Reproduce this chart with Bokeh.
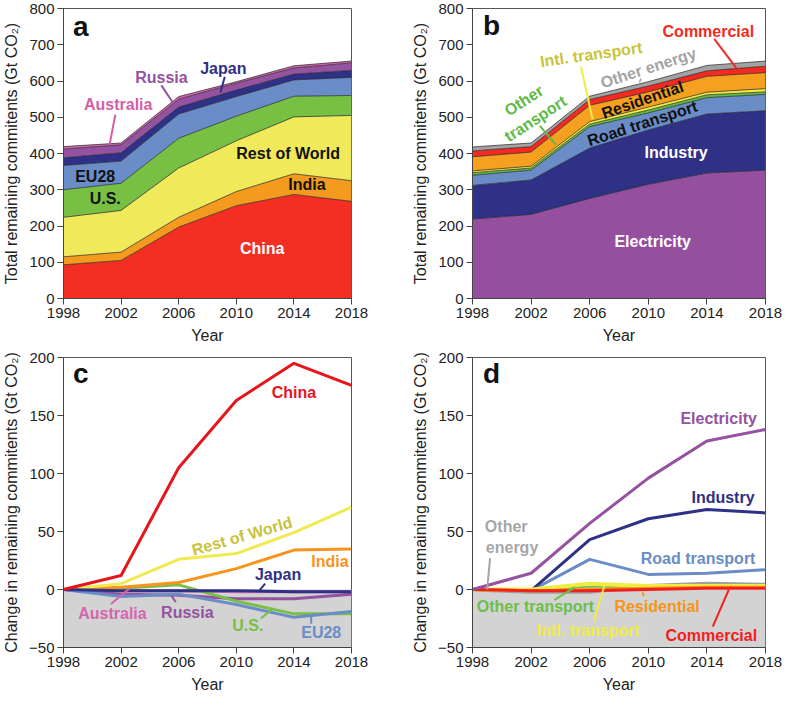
import numpy as np
from bokeh.plotting import figure
from bokeh.models import ColumnDataSource, Range1d, FixedTicker, Label, BoxAnnotation
from bokeh.layouts import column, row
from bokeh.embed import file_html
from bokeh.resources import INLINE

FONT = "Liberation Sans"

years = [1998, 2002, 2006, 2010, 2014, 2018]

# ---- panel a: remaining commitments by country (layer thickness, Gt CO2)
china = [93, 105, 197, 256, 287, 268]
india = [22, 23, 27, 39, 57, 57]
rest_of_world = [109, 115, 136, 140, 157, 180]
us = [76, 75, 82, 68, 57, 55]
eu28 = [67, 61, 67, 54, 45, 50]
japan = [21, 23, 19, 18, 16, 19]
russia = [24, 22, 22, 19, 17, 21]
australia = [7, 5, 7, 4, 6, 5]

# ---- panel b: remaining commitments by sector (layer thickness, Gt CO2)
electricity = [219, 232, 276, 315, 346, 354]
industry = [93, 95, 139, 150, 163, 164]
road_transport = [28, 27, 59, 47, 45, 45]
other_transport = [7, 6, 7, 8, 8, 7]
intl_transport = [5, 5, 7, 8, 7, 9]
residential = [39, 39, 45, 42, 44, 44]
commercial = [16, 15, 16, 16, 15, 18]
other_energy = [11, 10, 9, 12, 15, 14]

# ---- panel c: change vs 1998 by country
china_chg = [0, 12, 105, 163, 195, 176]
row_chg = [0, 5, 26, 31, 49, 71]
india_chg = [0, 2, 6, 18, 34, 35]
japan_chg = [0, -1, -1, -1, -2, -2]
australia_chg = [0, -1, -1, -2, -2, -2]
russia_chg = [0, -4, -5, -8, -8, -4]
us_chg = [0, 1, 4, -10, -21, -21]
eu28_chg = [0, -6, -4, -13, -24, -19]

# ---- panel d: change vs 1998 by sector
electricity_chg = [0, 14, 57, 96, 128, 138]
industry_chg = [0, -1, 43, 61, 69, 66]
road_chg = [0, -1, 26, 13, 14, 17]
other_transport_chg = [0, -1, 3, 2, 2, 2]
intl_chg = [0, 0, 5, 3, 3, 3]
residential_chg = [0, -1, 0, 1, 2, 2]
commercial_chg = [0, -1, -1, 0, 1, 1]
other_energy_chg = [0, -2, -2, 3, 5, 4]

YL_TOP = "Total remaining commitents (Gt CO\u2082)"
YL_BOT = "Change in remaining commitents (Gt CO\u2082)"


def make_fig(yr, yticks, ylabel, left, right, h, top, bottom):
    p = figure(width=392, height=h, x_range=Range1d(1998, 2018),
               y_range=Range1d(*yr), output_backend="svg",
               toolbar_location=None, min_border_left=left,
               min_border_right=right, min_border_top=top,
               min_border_bottom=bottom)
    p.xaxis.ticker = FixedTicker(ticks=years)
    p.yaxis.ticker = FixedTicker(ticks=yticks)
    p.grid.visible = False
    p.xaxis.axis_label = "Year"
    p.yaxis.axis_label = ylabel
    for ax in (p.xaxis[0], p.yaxis[0]):
        ax.axis_label_text_font = FONT
        ax.axis_label_text_font_size = "16px"
        ax.axis_label_text_font_style = "normal"
        ax.axis_label_text_color = "#222222"
        ax.axis_label_standoff = 6
        ax.major_label_text_font = FONT
        ax.major_label_text_font_size = "15px"
        ax.major_label_text_color = "#222222"
        ax.major_label_standoff = 3
        ax.major_tick_out = 6
        ax.major_tick_in = 0
        ax.minor_tick_out = 0
        ax.minor_tick_in = 0
        ax.axis_line_color = "#444444"
        ax.major_tick_line_color = "#444444"
    p.outline_line_color = "#555555"
    p.outline_line_alpha = 1
    return p


def lab(p, x, y, text, color, size="16px", angle=0, bold=True, align="center"):
    p.add_layout(Label(x=x, y=y, text=text, text_color=color, text_font=FONT,
                       text_font_size=size,
                       text_font_style="bold" if bold else "normal",
                       text_align=align, text_baseline="middle",
                       angle=angle, angle_units="deg"))


def leader(p, xs, ys, color, width=2):
    p.line(xs, ys, line_color=color, line_width=width)


# ================= panel a =================
a_names = ["china", "india", "row", "us", "eu28", "japan", "russia", "australia"]
a_vals = [china, india, rest_of_world, us, eu28, japan, russia, australia]
a_cols = ["#f52e24", "#f49b1f", "#f0e95a", "#77c044", "#6a8dc8", "#2e3187",
          "#9452a0", "#d669b4"]
src_a = ColumnDataSource(dict(year=years, **dict(zip(a_names, a_vals))))

pa = make_fig((0, 800), list(range(0, 801, 100)), YL_TOP, 58, 41, 348, 8, 50)
pa.varea_stack(stackers=a_names, x="year", color=a_cols, source=src_a)
cum = np.zeros(len(years))
for v in a_vals:
    cum = cum + np.array(v)
    pa.line(years, cum.tolist(), line_color="#222222", line_width=0.7)

lab(pa, 1999.2, 750, "a", "#111111", size="28px")
lab(pa, 2011.8, 138, "China", "white")
lab(pa, 2014.9, 315, "India", "#111111")
lab(pa, 2013.6, 399, "Rest of World", "#111111")
lab(pa, 2000.9, 277, "U.S.", "#111111")
lab(pa, 2000.2, 337, "EU28", "#111111")
lab(pa, 2009.1, 635, "Japan", "#2e3187")
lab(pa, 2004.8, 611, "Russia", "#9452a0")
lab(pa, 2001.8, 535, "Australia", "#d45fa8")
leader(pa, [2001.6, 2001.2], [507, 424], "#d45fa8")
leader(pa, [2004.8, 2005.6], [588, 540], "#9452a0")
leader(pa, [2009.2, 2008.9], [612, 568], "#2e3187")

# ================= panel b =================
b_names = ["elec", "ind", "road", "otr", "intl", "res", "com", "oen"]
b_vals = [electricity, industry, road_transport, other_transport,
          intl_transport, residential, commercial, other_energy]
b_cols = ["#94509e", "#2e3185", "#6a8dc8", "#5fb946", "#f2ec45", "#f5a01e",
          "#f42a22", "#a3a3a3"]
src_b = ColumnDataSource(dict(year=years, **dict(zip(b_names, b_vals))))

pb = make_fig((0, 800), list(range(0, 801, 100)), YL_TOP, 80, 19, 348, 8, 50)
pb.varea_stack(stackers=b_names, x="year", color=b_cols, source=src_b)
cum = np.zeros(len(years))
for v in b_vals:
    cum = cum + np.array(v)
    pb.line(years, cum.tolist(), line_color="#222222", line_width=0.7)

lab(pb, 1999.3, 752, "b", "#111111", size="28px")
lab(pb, 2010.3, 157, "Electricity", "white")
lab(pb, 2011.9, 402, "Industry", "white")
lab(pb, 2009.6, 483, "Road transport", "#111111", angle=18)
lab(pb, 2009.6, 548, "Residential", "#111111", angle=19)
lab(pb, 2010.0, 636, "Other energy", "#a3a3a3", angle=18)
lab(pb, 2006.1, 673, "Intl. transport", "#c9c33a", angle=8)
lab(pb, 2014.1, 737, "Commercial", "#f42a22")
lab(pb, 2001.5, 546, "Other", "#5fb946", angle=33)
lab(pb, 2002.3, 496, "transport", "#5fb946", angle=33)
leader(pb, [2014.5, 2016.0], [716, 636], "#f42a22")
leader(pb, [2005.4, 2006.2], [640, 494], "#f2ec45")
leader(pb, [2009.5, 2009.4], [607, 596], "#a3a3a3", 1.5)
leader(pb, [2002.6, 2003.7], [476, 424], "#5fb946")

# ================= panel c =================
pc = make_fig((-50, 200), list(range(-50, 201, 50)), YL_BOT, 58, 41, 349, 9, 50)
pc.add_layout(BoxAnnotation(bottom=-50, top=0, fill_color="#d3d3d3",
                            fill_alpha=1, line_alpha=0, level="underlay"))
c_series = [
    (australia_chg, "#d870b8"),
    (russia_chg, "#9452a0"),
    (us_chg, "#77c044"),
    (eu28_chg, "#6a8dc8"),
    (india_chg, "#f7941d"),
    (row_chg, "#f0ea50"),
    (japan_chg, "#2e3187"),
    (china_chg, "#e8141b"),
]
for vals, col in c_series:
    pc.line(years, vals, line_color=col, line_width=3)

lab(pc, 1999.2, 186, "c", "#111111", size="28px")
lab(pc, 2014.0, 170, "China", "#e8141b")
lab(pc, 2010.4, 46, "Rest of World", "#c9c23c", angle=16)
lab(pc, 2016.5, 24, "India", "#f7941d")
lab(pc, 2012.9, 13, "Japan", "#2e3187")
lab(pc, 2001.4, -21, "Australia", "#d466b0")
lab(pc, 2006.6, -20, "Russia", "#9452a0")
lab(pc, 2010.8, -31, "U.S.", "#77c044")
lab(pc, 2015.9, -37, "EU28", "#6a8dc8")
leader(pc, [2012.0, 2011.6], [5, -1], "#2e3187")
leader(pc, [2001.3, 2002.6], [-12.5, 1], "#d466b0")
leader(pc, [2005.8, 2005.5], [-11, -5.4], "#9452a0")
leader(pc, [2011.7, 2012.5], [-25, -17], "#77c044")
leader(pc, [2015.2, 2015.2], [-29.5, -22.5], "#6a8dc8")

# ================= panel d =================
pd_ = make_fig((-50, 200), list(range(-50, 201, 50)), YL_BOT, 80, 19, 349, 9, 50)
pd_.add_layout(BoxAnnotation(bottom=-50, top=0, fill_color="#d3d3d3",
                             fill_alpha=1, line_alpha=0, level="underlay"))
d_series = [
    (road_chg, "#6a8dc8", 3),
    (industry_chg, "#2e3185", 3),
    (other_energy_chg, "#a0a0a0", 4),
    (other_transport_chg, "#6cc04a", 3),
    (intl_chg, "#f2ec40", 4),
    (residential_chg, "#f7941d", 3),
    (commercial_chg, "#f21f1f", 3),
    (electricity_chg, "#9452a0", 3),
]
for vals, col, w in d_series:
    pd_.line(years, vals, line_color=col, line_width=w)

lab(pd_, 1999.3, 186, "d", "#111111", size="28px")
lab(pd_, 2014.8, 147, "Electricity", "#9452a0")
lab(pd_, 2015.1, 79, "Industry", "#2e3185")
lab(pd_, 2013.4, 27, "Road transport", "#6a8dc8")
lab(pd_, 2000.3, 54, "Other", "#a6a6a6")
lab(pd_, 2000.7, 36, "energy", "#a6a6a6")
lab(pd_, 2002.3, -15, "Other transport", "#6cc04a")
lab(pd_, 2005.9, -35, "Intl. transport", "#f2ec40")
lab(pd_, 2010.6, -15, "Residential", "#f7941d")
lab(pd_, 2014.3, -40, "Commercial", "#f21f1f")
leader(pd_, [1999.2, 1999.0], [27, 0], "#a6a6a6")
leader(pd_, [2003.6, 2005.0], [-9, 2], "#6cc04a")
leader(pd_, [2006.3, 2007.0], [-27, 3], "#f2ec40")
leader(pd_, [2009.7, 2009.6], [-6, -2.5], "#f7941d")
leader(pd_, [2014.4, 2015.5], [-32, 0], "#f21f1f")

layout = column(row(pa, pb), row(pc, pd_))
open("out.html", "w").write(file_html(layout, INLINE))
